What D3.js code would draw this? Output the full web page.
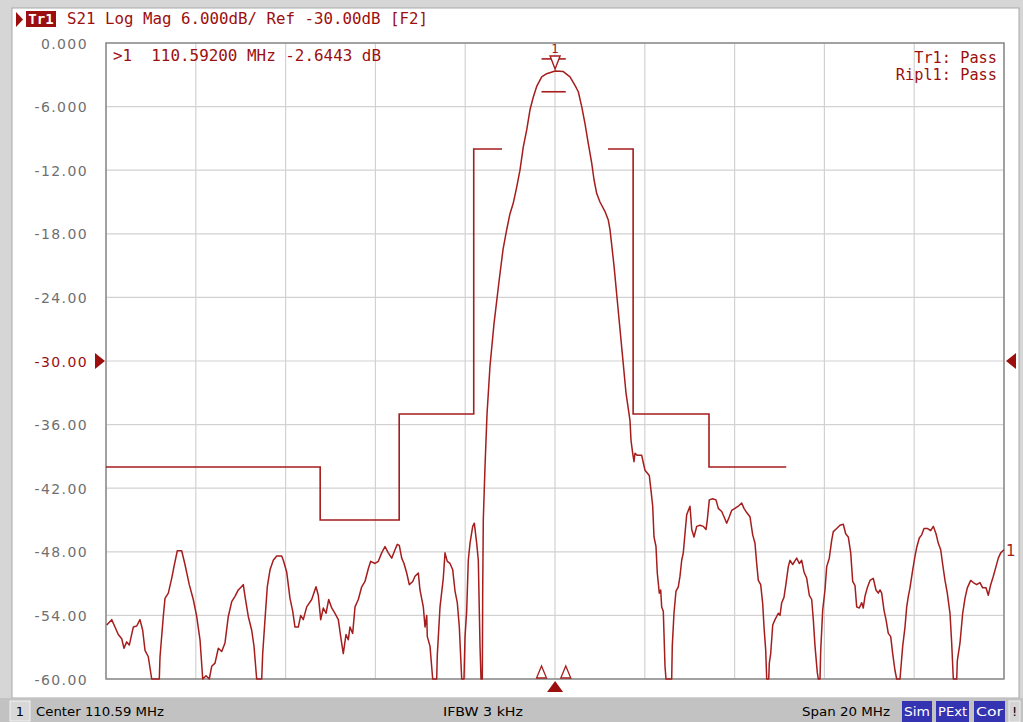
<!DOCTYPE html>
<html>
<head>
<meta charset="utf-8">
<script src="https://cdn.jsdelivr.net/npm/d3@7"></script>
<style>
  html, body { margin: 0; padding: 0; background: #ffffff; }
  svg { display: block; }
</style>
</head>
<body>
<div id="chart"></div>
<script>
// S21 trace (MHz / dB)
const freqMHz = [
  100.606,100.717,100.790,100.864,100.940,100.991,101.051,101.109,101.198,101.274,
  101.347,101.407,101.459,101.532,101.608,101.777,101.793,101.866,101.904,101.978,
  102.053,102.104,102.178,102.276,102.349,102.445,102.534,102.610,102.684,102.744,
  102.817,102.891,102.944,103.018,103.091,103.167,103.240,103.314,103.390,103.463,
  103.537,103.648,103.686,103.759,103.835,103.886,103.946,104.058,104.080,104.131,
  104.182,104.243,104.316,104.392,104.503,104.539,104.614,104.688,104.748,104.799,
  104.873,104.926,104.984,105.060,105.171,105.267,105.318,105.372,105.430,105.490,
  105.550,105.617,105.690,105.764,105.817,105.875,105.935,105.986,106.024,106.084,
  106.136,106.209,106.285,106.358,106.432,106.485,106.581,106.655,106.730,106.804,
  106.877,106.953,107.027,107.078,107.122,107.176,107.227,107.287,107.345,107.421,
  107.472,107.546,107.583,107.657,107.695,107.733,107.746,107.806,107.866,107.955,
  107.969,108.029,108.102,108.140,108.191,108.251,108.312,108.363,108.414,108.459,
  108.512,108.563,108.586,108.623,108.659,108.697,108.757,108.793,108.846,108.882,
  108.920,108.942,108.971,108.980,108.993,109.031,109.076,109.142,109.231,109.343,
  109.432,109.514,109.588,109.661,109.737,109.810,109.884,109.960,110.033,110.107,
  110.182,110.294,110.405,110.592,110.775,110.924,111.035,111.109,111.185,111.258,
  111.332,111.407,111.459,111.519,111.592,111.704,111.777,111.815,111.904,111.993,
  112.082,112.171,112.260,112.283,112.320,112.349,112.372,112.423,112.521,112.557,
  112.594,112.690,112.728,112.766,112.795,112.839,112.868,112.913,112.944,112.966,
  113.002,113.040,113.062,113.189,113.202,113.240,113.285,113.336,113.374,113.412,
  113.447,113.485,113.523,113.559,113.597,113.635,113.686,113.746,113.819,113.893,
  113.953,113.982,114.027,114.102,114.176,114.227,114.303,114.354,114.414,114.472,
  114.525,114.599,114.672,114.748,114.799,114.859,114.933,114.993,115.044,115.082,
  115.118,115.171,115.216,115.245,115.283,115.305,115.350,115.363,115.394,115.439,
  115.490,115.563,115.601,115.639,115.690,115.735,115.786,115.824,115.884,115.973,
  116.031,116.084,116.136,116.196,116.254,116.307,116.343,116.381,116.432,116.454,
  116.492,116.508,116.552,116.603,116.641,116.699,116.753,116.788,116.864,116.937,
  117.011,117.064,117.122,117.176,117.220,117.272,117.309,117.367,117.421,117.456,
  117.494,117.545,117.606,117.679,117.739,117.790,117.828,117.866,117.917,117.962,
  118.013,118.067,118.111,118.162,118.200,118.274,118.289,118.334,118.385,118.423,
  118.459,118.496,118.557,118.608,118.645,118.704,118.757,118.808,118.882,118.957,
  119.015,119.076,119.127,119.180,119.225,119.276,119.327,119.387,119.425,119.461,
  119.537,119.550,119.610,119.670,119.721,119.773,119.848,119.906,119.982,120.055,
  120.115,120.189,120.240,120.294,120.352,120.412,120.463,120.517,120.590
];
const s21dB = [
  -54.9,-54.4,-55.1,-55.8,-56.2,-57.1,-56.5,-56.8,-55.1,-55.0,
  -54.4,-55.4,-57.3,-57.9,-60,-60,-57.9,-54.1,-52.4,-51.9,
  -50.5,-49.4,-47.9,-47.9,-49.2,-51.1,-52.5,-54.1,-56.3,-60,
  -59.7,-60,-58.8,-58.5,-57.1,-57.4,-56.6,-54.1,-52.7,-52.2,
  -51.6,-51.1,-52.2,-54.1,-55.4,-56.9,-60,-60,-57.6,-54.4,
  -51.3,-49.7,-48.8,-48.4,-48.4,-48.8,-49.9,-52.4,-53.6,-55.1,
  -55.1,-54.0,-54.4,-53.2,-52.5,-51.3,-52.1,-54.4,-53.3,-53.8,
  -52.5,-53.3,-53.8,-54.4,-56.0,-57.6,-55.8,-56.3,-55.1,-55.7,
  -53.2,-52.5,-51.3,-50.8,-49.6,-48.9,-49.1,-48.9,-48.1,-47.5,
  -48.1,-48.6,-47.8,-47.3,-47.4,-48.6,-49.1,-50.0,-51.1,-50.8,
  -50.3,-50.0,-51.6,-53.2,-55.1,-54.0,-56.0,-56.9,-60,-60,
  -57.7,-53.2,-50.5,-48.1,-48.9,-49.1,-49.7,-51.7,-52.8,-55.1,
  -60,-60,-56.0,-53.6,-48.8,-47.2,-45.6,-45.3,-47.2,-48.8,
  -56.9,-60,-60,-51.6,-45.0,-40.0,-35.0,-30.5,-26.5,-22.5,
  -19.5,-17.6,-16.1,-15.1,-13.6,-12.0,-9.8,-8.2,-6.3,-5.1,
  -4.1,-3.2,-2.9,-2.64,-2.7,-3.2,-4.0,-4.6,-6.0,-7.6,
  -9.5,-11.3,-12.9,-14.2,-15.0,-15.9,-16.7,-17.6,-21.0,-25.0,
  -29.0,-33.0,-35.6,-37.5,-38.7,-39.5,-38.7,-38.9,-38.9,-39.6,
  -40.3,-40.8,-42.2,-43.7,-46.6,-47.5,-50.0,-51.9,-51.6,-53.2,
  -53.6,-58.8,-60,-60,-56.9,-53.8,-51.7,-51.3,-50.3,-48.8,
  -48.1,-46.3,-44.5,-44.1,-43.7,-45.9,-46.6,-45.6,-45.5,-45.6,
  -45.9,-45.0,-43.1,-43.0,-43.1,-43.9,-44.2,-44.7,-45.3,-44.7,
  -44.1,-43.9,-43.7,-43.4,-43.9,-44.3,-44.7,-46.4,-47.2,-49.1,
  -50.7,-51.1,-52.9,-55.1,-57.3,-60,-60,-58.5,-57.6,-54.9,
  -54.4,-53.8,-54.0,-52.8,-52.3,-51.0,-49.4,-48.8,-49.2,-48.6,
  -49.1,-48.8,-49.9,-50.5,-52.1,-52.5,-54.4,-56.9,-59.4,-60,
  -60,-57.3,-53.5,-51.6,-49.4,-48.6,-46.9,-46.1,-45.8,-45.5,
  -45.4,-46.3,-46.6,-48.1,-50.8,-51.2,-53.2,-53.3,-52.8,-53.3,
  -52.2,-51.4,-50.7,-50.5,-51.6,-51.9,-51.6,-51.9,-53.5,-54.4,
  -55.7,-56.0,-57.6,-59.2,-60,-60,-59.2,-56.9,-55.1,-53.2,
  -52.2,-51.4,-49.7,-48.4,-47.6,-46.7,-46.4,-45.8,-45.8,-46.0,
  -45.6,-46.3,-47.2,-47.8,-49.2,-50.7,-51.9,-53.8,-56.6,-60,
  -60,-58.3,-56.6,-53.8,-52.4,-51.4,-50.7,-50.9,-51.1,-50.9,
  -51.4,-51.4,-52.1,-51.1,-50.3,-49.4,-48.6,-48.1,-47.8
];

// limit line segments
const limitLeftFreq  = [100.59, 105.36, 105.36, 107.12, 107.12, 108.78, 108.78, 109.41];
const limitLeftDb    = [-40, -40, -45, -45, -35, -35, -10, -10];
const limitRightFreq = [111.77, 112.33, 112.33, 114.02, 114.02, 115.74];
const limitRightDb   = [-10, -10, -35, -35, -40, -40];

// ripple limit band
const rippleBand = [110.29, 110.83];
const rippleDb = [-1.5, -4.6];

// marker 1
const markerFreq = 110.592;
const markerDb = -2.6443;

// axis
const centerMHz = 110.59, spanMHz = 20;
const refDb = -30, scaleDb = 6, divisions = 10;
const yTicks = d3.range(0, divisions + 1).map(i => refDb + scaleDb * (divisions / 2 - i));
const xTicks = d3.range(0, divisions + 1).map(i => centerMHz - spanMHz / 2 + i * spanMHz / divisions);

const W = 1023, H = 722;
const plot = { left: 106, right: 1004, top: 43, bottom: 679 };
const red = '#a51d1d';
const darkRed = '#9c0f0f';
const mono = '"DejaVu Sans Mono", monospace';
const sans = '"DejaVu Sans", sans-serif';

const svg = d3.select('#chart').append('svg')
  .attr('width', W).attr('height', H);

// window frame
svg.append('rect').attr('width', W).attr('height', H).attr('fill', '#d6d6d6');
svg.append('rect').attr('x', 12).attr('y', 8).attr('width', 1007).attr('height', 690)
  .attr('fill', '#ffffff').attr('stroke', '#a8a8a8');

const x = d3.scaleLinear().domain([xTicks[0], xTicks[xTicks.length - 1]]).range([plot.left, plot.right]);
const y = d3.scaleLinear().domain([-60, 0]).range([plot.bottom, plot.top]);

// grid
const grid = svg.append('g');
grid.selectAll('.vg').data(xTicks).enter().append('line')
  .attr('x1', d => x(d)).attr('x2', d => x(d))
  .attr('y1', plot.top).attr('y2', plot.bottom)
  .attr('stroke', '#d2d2d2').attr('stroke-width', 1.2);
grid.selectAll('.hg').data(yTicks).enter().append('line')
  .attr('x1', plot.left).attr('x2', plot.right)
  .attr('y1', d => y(d)).attr('y2', d => y(d))
  .attr('stroke', '#d2d2d2').attr('stroke-width', 1.2);

svg.append('rect')
  .attr('x', plot.left).attr('y', plot.top)
  .attr('width', plot.right - plot.left).attr('height', plot.bottom - plot.top)
  .attr('fill', 'none').attr('stroke', '#8a8a8a').attr('stroke-width', 1.5);

// y axis labels
const fmt = v => Math.abs(v) < 10 ? v.toFixed(3) : v.toFixed(2);
const yAxis = d3.axisLeft(y).tickValues(yTicks).tickSize(0).tickPadding(0).tickFormat(fmt);
const ga = svg.append('g').attr('transform', `translate(88,0)`).call(yAxis);
ga.select('.domain').remove();
ga.selectAll('text')
  .attr('font-family', sans).attr('font-size', 14).attr('letter-spacing', 1.4)
  .attr('fill', d => d === refDb ? darkRed : '#707070')
  .attr('dy', '0.36em');

// reference level arrows
const yRef = y(refDb);
svg.append('path').attr('d', `M95,${yRef - 8}L105,${yRef}L95,${yRef + 8}Z`).attr('fill', darkRed);
svg.append('path').attr('d', `M1016,${yRef - 8}L1006,${yRef}L1016,${yRef + 8}Z`).attr('fill', darkRed);

// limit lines
const line = d3.line().x(d => x(d[0])).y(d => y(d[1]));
[[limitLeftFreq, limitLeftDb], [limitRightFreq, limitRightDb]].forEach(([fs, ds]) => {
  svg.append('path').datum(fs.map((f, i) => [f, ds[i]]))
    .attr('d', line).attr('fill', 'none').attr('stroke', red).attr('stroke-width', 1.6);
});

// ripple limit bars
rippleDb.forEach(v => {
  svg.append('line')
    .attr('x1', x(rippleBand[0])).attr('x2', x(rippleBand[1]))
    .attr('y1', y(v)).attr('y2', y(v))
    .attr('stroke', red).attr('stroke-width', 1.6);
});

// trace
svg.append('path').datum(freqMHz.map((f, i) => [f, s21dB[i]]))
  .attr('d', line).attr('fill', 'none').attr('stroke', red)
  .attr('stroke-width', 1.5).attr('stroke-linejoin', 'round');

// trace end label
svg.append('text').attr('x', plot.right + 2).attr('y', y(s21dB[s21dB.length - 1]) + 6)
  .attr('font-family', sans).attr('font-size', 15).attr('fill', red).text('1');

// marker 1 on the peak
const mx = x(markerFreq), my = y(markerDb);
svg.append('path').attr('d', `M${mx - 5},${my - 15}L${mx + 5},${my - 15}L${mx},${my - 2}Z`)
  .attr('fill', '#ffffff').attr('stroke', red).attr('stroke-width', 1.4);
svg.append('text').attr('x', mx).attr('y', my - 18).attr('text-anchor', 'middle')
  .attr('font-family', sans).attr('font-size', 12).attr('fill', red).text('1');

// ripple band markers and active marker at the bottom
rippleBand.forEach(f => {
  const bx = x(f);
  svg.append('path').attr('d', `M${bx - 5},${plot.bottom - 1}L${bx + 5},${plot.bottom - 1}L${bx},${plot.bottom - 13}Z`)
    .attr('fill', '#ffffff').attr('stroke', red).attr('stroke-width', 1.3);
});
svg.append('path').attr('d', `M${mx - 8},${plot.bottom + 13}L${mx + 8},${plot.bottom + 13}L${mx},${plot.bottom + 2}Z`)
  .attr('fill', darkRed);

// header
svg.append('path').attr('d', 'M16,12L23,19.5L16,27Z').attr('fill', darkRed);
svg.append('rect').attr('x', 26).attr('y', 11).attr('width', 30).attr('height', 16).attr('fill', darkRed);
svg.append('text').attr('x', 41).attr('y', 24).attr('text-anchor', 'middle')
  .attr('font-family', mono).attr('font-size', 14).attr('font-weight', 'bold')
  .attr('fill', '#ffffff').text('Tr1');
svg.append('text').attr('x', 67).attr('y', 24)
  .attr('font-family', mono).attr('font-size', 15).attr('fill', darkRed)
  .attr('textLength', 361).attr('lengthAdjust', 'spacingAndGlyphs')
  .text(`S21 Log Mag ${scaleDb.toFixed(3)}dB/ Ref ${refDb.toFixed(2)}dB [F2]`);

// marker readout
svg.append('text').attr('x', 113).attr('y', 61)
  .attr('font-family', mono).attr('font-size', 15).attr('fill', darkRed)
  .attr('textLength', 268).attr('lengthAdjust', 'spacingAndGlyphs')
  .attr('xml:space', 'preserve')
  .text(`>1  ${markerFreq.toFixed(5)} MHz ${markerDb.toFixed(4)} dB`);

// pass/fail
[['Tr1: Pass', 63], ['Ripl1: Pass', 80]].forEach(([t, yy]) => {
  svg.append('text').attr('x', 997).attr('y', yy).attr('text-anchor', 'end')
    .attr('font-family', mono).attr('font-size', 15).attr('fill', darkRed)
    .attr('textLength', t.length * 9.2).attr('lengthAdjust', 'spacingAndGlyphs').text(t);
});

// status bar
const sb = svg.append('g');
sb.append('rect').attr('x', 0).attr('y', 698).attr('width', W).attr('height', 24).attr('fill', '#c2c2c2');
sb.append('rect').attr('x', 10).attr('y', 701).attr('width', 20).attr('height', 20)
  .attr('fill', '#d8d8d8').attr('stroke', '#f2f2f2');
sb.append('text').attr('x', 20).attr('y', 716).attr('text-anchor', 'middle')
  .attr('font-family', sans).attr('font-size', 13).attr('fill', '#000').text('1');
[[`Center ${centerMHz.toFixed(2)} MHz`, 36, 128], ['IFBW 3 kHz', 443, 80], [`Span ${spanMHz} MHz`, 802, 88]]
  .forEach(([t, xx, len]) => {
    sb.append('text').attr('x', xx).attr('y', 716)
      .attr('font-family', sans).attr('font-size', 13).attr('fill', '#000')
      .attr('textLength', len).attr('lengthAdjust', 'spacingAndGlyphs').text(t);
  });
[['Sim', 902, 30], ['PExt', 936, 33], ['Cor', 974, 31]].forEach(([t, xx, w]) => {
  sb.append('rect').attr('x', xx).attr('y', 701).attr('width', w).attr('height', 21).attr('fill', '#3434b2');
  sb.append('text').attr('x', xx + w / 2).attr('y', 716).attr('text-anchor', 'middle')
    .attr('font-family', sans).attr('font-size', 13).attr('fill', '#ffffff')
    .attr('textLength', w - 4).attr('lengthAdjust', 'spacingAndGlyphs').text(t);
});
sb.append('rect').attr('x', 1009).attr('y', 701).attr('width', 11).attr('height', 21)
  .attr('fill', '#d4d4d4').attr('stroke', '#eeeeee');
sb.append('text').attr('x', 1014.5).attr('y', 716).attr('text-anchor', 'middle')
  .attr('font-family', sans).attr('font-size', 13).attr('fill', '#000').text('!');
</script>
</body>
</html>
